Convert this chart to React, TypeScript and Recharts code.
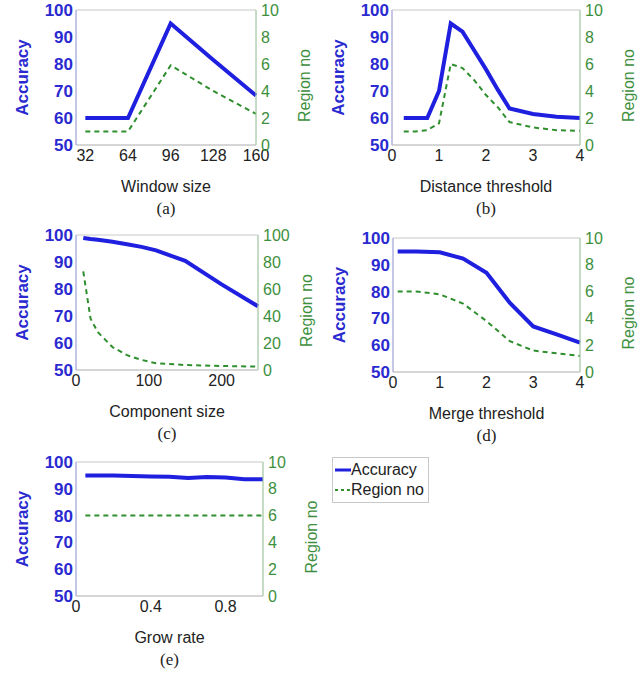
import React from 'react';
import { LineChart, Line, XAxis, YAxis, ReferenceArea, Legend } from 'recharts';

const BLUE = '#1f1fe0';
const BLUE_TXT = '#2a2ad0';
const GREEN = '#2f8f2f';
const GREEN_TXT = '#3d8f3d';
const DARK = '#222';
const FONT = '"Liberation Sans", Arial, Helvetica, sans-serif';

// (a) window size
const windowSize = [32, 64, 96, 128, 160];
const windowAcc = [60, 60, 95, 81.5, 68.3];
const windowRegion = [1, 1, 5.9, 4.0, 2.3];

// (b) distance threshold
const distThr = [0.25, 0.5, 0.75, 1, 1.25, 1.5, 1.75, 2, 2.25, 2.5, 3, 3.5, 4];
const distAcc = [60, 60, 60, 70, 95, 92, 85, 78, 70.5, 63.5, 61.5, 60.5, 60];
const distRegion = [1, 1, 1.1, 1.6, 6, 5.7, 4.8, 3.7, 2.8, 1.7, 1.3, 1.1, 1.05];

// (c) component size
const compSize = [10, 20, 30, 50, 70, 90, 110, 150, 200, 250];
const compAcc = [98.9, 98.5, 98.2, 97.5, 96.6, 95.6, 94.3, 90.4, 81.7, 73.6];
const compRegion = [73, 38, 28, 17, 11, 7.5, 5, 3.7, 3, 2.5];

// (d) merge threshold
const mergeThr = [0.1, 0.5, 1, 1.5, 2, 2.5, 3, 3.5, 4];
const mergeAcc = [95, 95, 94.7, 92.3, 87, 75.8, 67, 64, 61];
const mergeRegion = [6, 6, 5.8, 5.1, 3.8, 2.3, 1.6, 1.4, 1.2];

// (e) grow rate
const growRate = [0.05, 0.1, 0.2, 0.3, 0.4, 0.5, 0.6, 0.7, 0.8, 0.9, 1.0];
const growAcc = [95, 95, 95, 94.8, 94.6, 94.5, 94, 94.4, 94.2, 93.6, 93.6];
const growRegion = [6, 6, 6, 6, 6, 6, 6, 6, 6, 6, 6];

const accTicks = [50, 60, 70, 80, 90, 100];
const regionTicks10 = [0, 2, 4, 6, 8, 10];
const regionTicks100 = [0, 20, 40, 60, 80, 100];

type Box = { l: number; r: number; t: number; b: number };

interface PanelProps {
  x: number[];
  acc: number[];
  region: number[];
  xDomain: [number, number];
  xTicks: number[];
  rTicks: number[];
  xLabel: string;
  tag: string;
  box: Box;
  legend?: boolean;
}

const renderLegend = (props: any) => (
  <div style={{ border: '1px solid #c8c8c8', background: '#fff', padding: '2px 4px 2px 2px', fontFamily: FONT, fontSize: 16, color: DARK, lineHeight: '20px' }}>
    {(props.payload || []).map((entry: any) => (
      <div key={entry.value} style={{ display: 'flex', alignItems: 'center' }}>
        <svg width={16} height={10}>
          <line x1={0} y1={5} x2={16} y2={5} stroke={entry.color}
            strokeWidth={entry.value === 'Accuracy' ? 3 : 2}
            strokeDasharray={entry.value === 'Accuracy' ? undefined : '3 3'} />
        </svg>
        <span>{entry.value}</span>
      </div>
    ))}
  </div>
);

const Panel: React.FC<PanelProps> = ({ x, acc, region, xDomain, xTicks, rTicks, xLabel, tag, box, legend }) => {
  const data = x.map((v, i) => ({ x: v, acc: acc[i], region: region[i] }));
  const left = box.l - 76;
  const top = box.t - 10;
  const plotW = box.r - box.l;
  const plotH = box.b - box.t;
  const extra = legend ? 110 : 0;
  const width = plotW + 76 + 64 + extra;
  const height = plotH + 85;
  const midY = 10 + plotH / 2;
  const midX = 76 + plotW / 2;
  const rMax = rTicks[rTicks.length - 1];

  return (
    <div style={{ position: 'absolute', left, top }}>
      <LineChart width={width} height={height} data={data}
        margin={{ top: 10, left: 6, right: 4 + extra, bottom: 0 }}>
        <XAxis type="number" dataKey="x" domain={xDomain} ticks={xTicks} interval={0}
          tickLine={false} tickSize={0} tickMargin={5} height={75}
          axisLine={{ stroke: '#c8c8c8' }}
          tick={{ fill: DARK, fontSize: 16, fontFamily: FONT }}
          label={{
            content: () => (
              <g>
                <text x={midX} y={10 + plotH + 41} textAnchor="middle" dominantBaseline="central"
                  fill={DARK} fontSize={16} fontFamily={FONT}>{xLabel}</text>
                <text x={midX} y={10 + plotH + 63} textAnchor="middle" dominantBaseline="central"
                  fill={DARK} fontSize={17} fontFamily='"Liberation Serif", "Times New Roman", serif'>{tag}</text>
              </g>
            ),
          }} />
        <YAxis yAxisId="left" orientation="left" domain={[50, 100]} ticks={accTicks} interval={0}
          width={70} tickLine={false} tickSize={0} tickMargin={3}
          axisLine={{ stroke: '#a8a8ec' }}
          tick={{ fill: BLUE_TXT, fontSize: 17, fontWeight: 'bold', fontFamily: FONT }}
          label={{
            content: () => (
              <text x={22} y={midY} transform={`rotate(-90 22 ${midY})`} textAnchor="middle"
                dominantBaseline="central" fill={BLUE_TXT} fontSize={17} fontWeight="bold"
                fontFamily={FONT}>Accuracy</text>
            ),
          }} />
        <YAxis yAxisId="right" orientation="right" domain={[0, rMax]} ticks={rTicks} interval={0}
          width={60} tickLine={false} tickSize={0} tickMargin={5}
          axisLine={{ stroke: '#a8d4a8' }}
          tick={{ fill: GREEN_TXT, fontSize: 16, fontFamily: FONT }}
          label={{
            content: () => {
              const cx = 76 + plotW + 48;
              const cy = midY + 8;
              return (
                <text x={cx} y={cy} transform={`rotate(-90 ${cx} ${cy})`} textAnchor="middle"
                  dominantBaseline="central" fill={GREEN_TXT} fontSize={16}
                  fontFamily={FONT}>Region no</text>
              );
            },
          }} />
        <ReferenceArea yAxisId="left" x1={xDomain[0]} x2={xDomain[1]} y1={50} y2={100}
          fill="none" stroke="#c8c8c8" />
        <Line yAxisId="right" type="linear" dataKey="region" name="Region no" stroke={GREEN}
          strokeWidth={2} strokeDasharray="5 4" dot={false} isAnimationActive={false} />
        <Line yAxisId="left" type="linear" dataKey="acc" name="Accuracy" stroke={BLUE}
          strokeWidth={4} dot={false} isAnimationActive={false} />
        {legend && (
          <Legend layout="horizontal" verticalAlign="middle" align="center"
            content={renderLegend}
            wrapperStyle={{ left: 332 - left, top: 457 - top, width: 'auto', height: 'auto' }} />
        )}
      </LineChart>
    </div>
  );
};

export default function App() {
  return (
    <div style={{ position: 'absolute', left: 0, top: 0, width: 643, height: 675, background: '#fff' }}>
      <Panel x={windowSize} acc={windowAcc} region={windowRegion} xDomain={[25, 160]}
        xTicks={[32, 64, 96, 128, 160]} rTicks={regionTicks10} xLabel="Window size" tag="(a)"
        box={{ l: 76, r: 256, t: 10, b: 145 }} />
      <Panel x={distThr} acc={distAcc} region={distRegion} xDomain={[0, 4]}
        xTicks={[0, 1, 2, 3, 4]} rTicks={regionTicks10} xLabel="Distance threshold" tag="(b)"
        box={{ l: 392, r: 580, t: 10, b: 145 }} />
      <Panel x={compSize} acc={compAcc} region={compRegion} xDomain={[0, 250]}
        xTicks={[0, 100, 200]} rTicks={regionTicks100} xLabel="Component size" tag="(c)"
        box={{ l: 76, r: 258, t: 235, b: 370 }} />
      <Panel x={mergeThr} acc={mergeAcc} region={mergeRegion} xDomain={[0, 4]}
        xTicks={[0, 1, 2, 3, 4]} rTicks={regionTicks10} xLabel="Merge threshold" tag="(d)"
        box={{ l: 393, r: 580, t: 238, b: 372 }} />
      <Panel x={growRate} acc={growAcc} region={growRegion} xDomain={[0, 1]}
        xTicks={[0, 0.4, 0.8]} rTicks={regionTicks10} xLabel="Grow rate" tag="(e)"
        box={{ l: 76, r: 263, t: 462, b: 596 }} legend />
    </div>
  );
}
